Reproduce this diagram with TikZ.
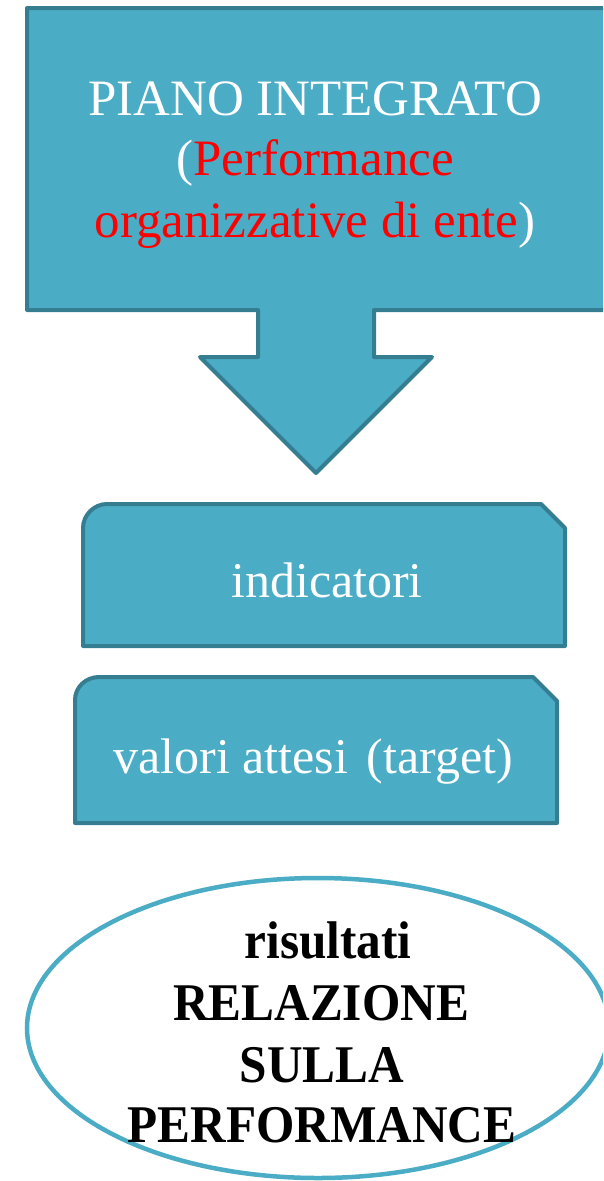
\documentclass[tikz,border=0pt]{standalone}
\usepackage{fontspec}
\setmainfont{Liberation Serif}
\newfontfamily\condserif[FakeStretch=0.93]{Liberation Serif}
\definecolor{aqua}{HTML}{4BACC6}
\definecolor{aquadark}{HTML}{357D91}
\definecolor{titlered}{HTML}{FF0000}
\tikzset{
  shapebox/.style={fill=aqua, draw=aquadark, line width=4pt, line join=round},
  boxtext/.style={text=white, font=\fontsize{50}{60}\selectfont, inner sep=0pt, anchor=base},
  headtext/.style={boxtext, font=\fontsize{51}{60}\selectfont},
  resulttext/.style={text=black, font=\condserif\bfseries\fontsize{53}{60}\selectfont, inner sep=0pt, anchor=base}
}
\begin{document}
\begin{tikzpicture}[x=1pt, y=-1pt]
  \useasboundingbox (0,0) rectangle (603,1181);
  \clip (0,0) rectangle (603,1181);

  % down-arrow callout
  \draw[shapebox] (27,8) -- (607,8) -- (607,310) -- (374,310) -- (374,357)
    -- (432,357) -- (316,473) -- (200,357) -- (258,357) -- (258,310)
    -- (27,310) -- cycle;
  \node[headtext] (t1) at (315,115) {PIANO INTEGRATO};
  \node[headtext] (t2) at (315,175) {(\textcolor{titlered}{Performance}};
  \node[headtext] (t3) at (315,237) {\textcolor{titlered}{organizzative di ente})};

  % indicator box: rounded top-left, snipped top-right
  \draw[shapebox] (83,646) -- (83,528) .. controls (83,515) and (94,504) .. (107,504)
    -- (541,504) -- (565,528) -- (565,646) -- cycle;
  \node[boxtext] (ind) at (327,597) {indicatori};

  % target box
  \draw[shapebox] (75,823) -- (75,700) .. controls (75,687) and (86,677) .. (99,677)
    -- (533,677) -- (557,701) -- (557,823) -- cycle;
  \node[boxtext] (val) at (313,773) {valori attesi\hspace{6pt} (target)};

  % results ellipse
  \draw[draw=aqua, line width=4.5pt, fill=white] (318,1028) ellipse [x radius=291pt, y radius=150pt];
  \node[resulttext] (r1) at (328,958) {risultati};
  \node[resulttext] (r2) at (321,1020) {RELAZIONE};
  \node[resulttext] (r3) at (322,1082) {SULLA};
  \node[resulttext] (r4) at (322,1142) {PERFORMANCE};
\end{tikzpicture}
\end{document}
